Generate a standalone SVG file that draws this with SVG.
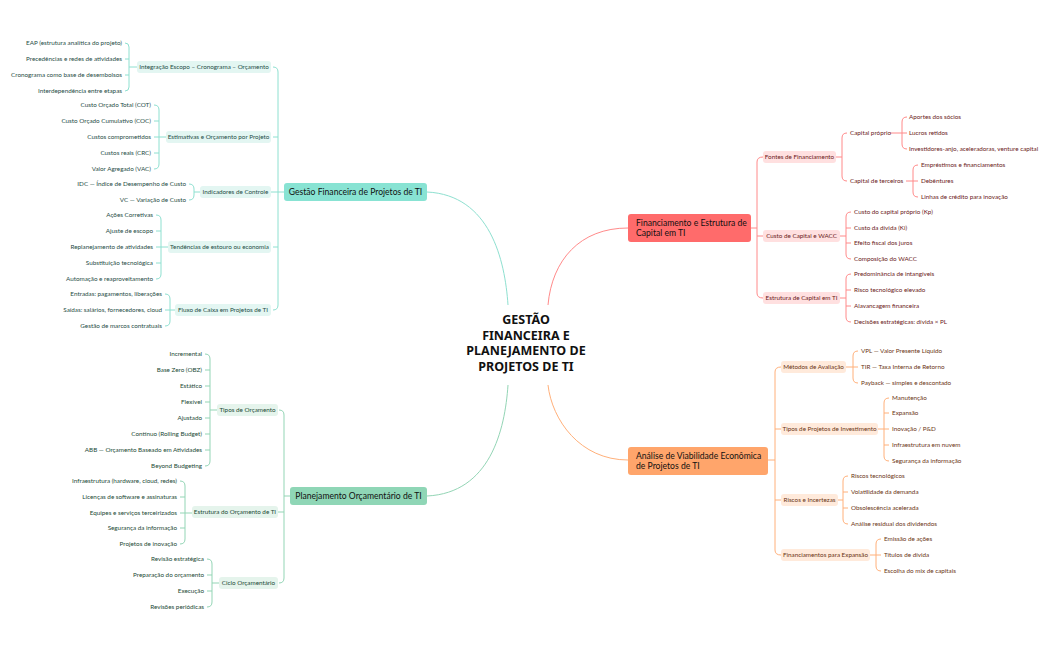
<svg xmlns="http://www.w3.org/2000/svg" width="1049" height="650" viewBox="0 0 1049 650">
<style>
text{font-family:Lato,"Liberation Sans",sans-serif;font-size:6.3px}
.l{text-anchor:end}
.t text{fill:#1f4d46}.g text{fill:#234a36}.r text{fill:#6b1a1a}.o text{fill:#6b3515}
path{fill:none;stroke-width:1}
.tc{stroke:#8ee0d0}.gc{stroke:#93d5b5}.rc{stroke:#ff8a8a}.oc{stroke:#ffb07a}
.tp{fill:#e3f6f2}.gp{fill:#e5f4ec}.rp{fill:#ffe0e0}.op{fill:#ffeadb}
.m{font-size:8.6px;fill:#111}
</style>
<rect width="1049" height="650" fill="#fff"/>
<g id="connectors">
<path class="tc" d="M427,192 C490,195 505,260 508,305"/>
<path class="gc" d="M427,496 C490,493 505,430 508,385"/>
<path class="rc" d="M628,228 C580,228 552,260 548,305"/>
<path class="oc" d="M628,460 C580,460 552,420 548,385"/>
<!-- teal -->
<path class="tc" d="M273,67 Q278,67 278,72 V305 Q278,310 273,310 M278,137H273 M278,247H273 M284,192H271"/>
<path class="tc" d="M125,43 Q129,43 129,47 V87 Q129,91 125,91 M129,59H125 M129,75H125 M137,67H129"/>
<path class="tc" d="M154,105 Q159,105 159,110 V164 Q159,169 154,169 M159,121H154 M159,153H154 M166,137H154"/>
<path class="tc" d="M189,184 Q194,184 194,189 V195 Q194,200 189,200 M200,192H194"/>
<path class="tc" d="M156,215 Q161,215 161,220 V274 Q161,279 156,279 M161,231H156 M161,263H156 M168,247H156"/>
<path class="tc" d="M165,294 Q170,294 170,299 V321 Q170,326 165,326 M175,310H165"/>
<!-- green -->
<path class="gc" d="M279,410 Q284,410 284,415 V578 Q284,583 279,583 M290,496H284 M284,512H278"/>
<path class="gc" d="M205,354 Q210,354 210,359 V461 Q210,466 205,466 M210,370H205 M210,386H205 M210,402H205 M210,418H205 M210,434H205 M210,450H205 M217,410H210"/>
<path class="gc" d="M180,481 Q185,481 185,486 V539 Q185,544 180,544 M185,497H180 M185,528H180 M192,513H180"/>
<path class="gc" d="M207,559 Q212,559 212,564 V602 Q212,607 207,607 M212,575H207 M212,591H207 M219,583H212"/>
<!-- red -->
<path class="rc" d="M763,157 Q757,157 757,162 V293 Q757,298 763,298 M751,228H757 M757,236H763"/>
<path class="rc" d="M847,133 Q842,133 842,138 V176 Q842,181 847,181 M836,157H842"/>
<path class="rc" d="M907,117 Q902,117 902,122 V144 Q902,149 907,149 M890,133H907"/>
<path class="rc" d="M918,165 Q913,165 913,170 V192 Q913,197 918,197 M906,181H918"/>
<path class="rc" d="M851,212 Q846,212 846,217 V254 Q846,259 851,259 M840,236H846 M846,228H851 M846,243H851"/>
<path class="rc" d="M851,274 Q846,274 846,279 V317 Q846,322 851,322 M840,298H846 M846,290H851 M846,306H851"/>
<!-- orange -->
<path class="oc" d="M781,367 Q775,367 775,372 V550 Q775,555 781,555 M768,460H775 M775,429H781 M775,500H781"/>
<path class="oc" d="M858,351 Q853,351 853,356 V378 Q853,383 858,383 M846,367H858"/>
<path class="oc" d="M889,398 Q884,398 884,403 V456 Q884,461 889,461 M878,429H889 M884,413H889 M884,445H889"/>
<path class="oc" d="M848,476 Q843,476 843,481 V519 Q843,524 848,524 M838,500H843 M843,492H848 M843,508H848"/>
<path class="oc" d="M881,539 Q876,539 876,544 V566 Q876,571 881,571 M870,555H881"/>
</g>
<g id="center"><text x="526" y="324" text-anchor="middle" style="font-family:'Noto Sans','Liberation Sans',sans-serif;font-size:12.5px;font-weight:bold;fill:#111"><tspan x="526">GESTÃO</tspan><tspan x="526" dy="15.5">FINANCEIRA E</tspan><tspan x="526" dy="15.5">PLANEJAMENTO DE</tspan><tspan x="526" dy="15.5">PROJETOS DE TI</tspan></text></g>
<g id="n-gestao"><rect x="284" y="183" width="143" height="18" rx="3" fill="#88e3d3"/><text class="m" x="355.5" y="195" text-anchor="middle">Gestão Financeira de Projetos de TI</text></g>
<g id="n-planej"><rect x="290" y="487" width="137" height="18" rx="3" fill="#8fd6b6"/><text class="m" x="358.5" y="499" text-anchor="middle">Planejamento Orçamentário de TI</text></g>
<g id="n-financ"><rect x="628" y="214" width="123" height="28" rx="3" fill="#ff6b6b"/><text class="m" x="636" y="226">Financiamento e Estrutura de<tspan x="636" dy="10">Capital em TI</tspan></text></g>
<g id="n-analise"><rect x="628" y="447" width="140" height="28" rx="3" fill="#ffa56b"/><text class="m" x="636" y="459">Análise de Viabilidade Econômica<tspan x="636" dy="10">de Projetos de TI</tspan></text></g>
<g id="teal" class="t">
<rect class="tp" x="137" y="61" width="134" height="12" rx="3"/><text x="204" y="69.2" text-anchor="middle">Integração Escopo – Cronograma – Orçamento</text>
<rect class="tp" x="166" y="131" width="105" height="12" rx="3"/><text x="218.5" y="139.2" text-anchor="middle">Estimativas e Orçamento por Projeto</text>
<rect class="tp" x="200" y="186" width="71" height="12" rx="3"/><text x="235.5" y="194.2" text-anchor="middle">Indicadores de Controle</text>
<rect class="tp" x="168" y="241" width="103" height="12" rx="3"/><text x="219.5" y="249.2" text-anchor="middle">Tendências de estouro ou economia</text>
<rect class="tp" x="175" y="304" width="96" height="12" rx="3"/><text x="223" y="312.2" text-anchor="middle">Fluxo de Caixa em Projetos de TI</text>
<text class="l" x="122" y="45.2">EAP (estrutura analítica do projeto)</text>
<text class="l" x="122" y="61.2">Precedências e redes de atividades</text>
<text class="l" x="122" y="77.2">Cronograma como base de desembolsos</text>
<text class="l" x="122" y="93.2">Interdependência entre etapas</text>
<text class="l" x="151" y="107.2">Custo Orçado Total (COT)</text>
<text class="l" x="151" y="123.2">Custo Orçado Cumulativo (COC)</text>
<text class="l" x="151" y="139.2">Custos comprometidos</text>
<text class="l" x="151" y="155.2">Custos reais (CRC)</text>
<text class="l" x="151" y="171.2">Valor Agregado (VAC)</text>
<text class="l" x="186" y="186.2">IDC — Índice de Desempenho de Custo</text>
<text class="l" x="186" y="202.2">VC — Variação de Custo</text>
<text class="l" x="153" y="217.2">Ações Corretivas</text>
<text class="l" x="153" y="233.2">Ajuste de escopo</text>
<text class="l" x="153" y="249.2">Replanejamento de atividades</text>
<text class="l" x="153" y="265.2">Substituição tecnológica</text>
<text class="l" x="153" y="281.2">Automação e reaproveitamento</text>
<text class="l" x="162" y="296.2">Entradas: pagamentos, liberações</text>
<text class="l" x="162" y="312.2">Saídas: salários, fornecedores, cloud</text>
<text class="l" x="162" y="328.2">Gestão de marcos contratuais</text>
</g>
<g id="green" class="g">
<rect class="gp" x="217" y="404" width="61" height="12" rx="3"/><text x="247.5" y="412.2" text-anchor="middle">Tipos de Orçamento</text>
<rect class="gp" x="192" y="506" width="86" height="12" rx="3"/><text x="235" y="514.2" text-anchor="middle">Estrutura do Orçamento de TI</text>
<rect class="gp" x="219" y="577" width="59" height="12" rx="3"/><text x="248.5" y="585.2" text-anchor="middle">Ciclo Orçamentário</text>
<text class="l" x="202" y="356.2">Incremental</text>
<text class="l" x="202" y="372.2">Base Zero (OBZ)</text>
<text class="l" x="202" y="388.2">Estático</text>
<text class="l" x="202" y="404.2">Flexível</text>
<text class="l" x="202" y="420.2">Ajustado</text>
<text class="l" x="202" y="436.2">Contínuo (Rolling Budget)</text>
<text class="l" x="202" y="452.2">ABB — Orçamento Baseado em Atividades</text>
<text class="l" x="202" y="468.2">Beyond Budgeting</text>
<text class="l" x="177" y="483.2">Infraestrutura (hardware, cloud, redes)</text>
<text class="l" x="177" y="499.2">Licenças de software e assinaturas</text>
<text class="l" x="177" y="515.2">Equipes e serviços terceirizados</text>
<text class="l" x="177" y="530.2">Segurança da informação</text>
<text class="l" x="177" y="546.2">Projetos de inovação</text>
<text class="l" x="204" y="561.2">Revisão estratégica</text>
<text class="l" x="204" y="577.2">Preparação do orçamento</text>
<text class="l" x="204" y="593.2">Execução</text>
<text class="l" x="204" y="609.2">Revisões periódicas</text>
</g>
<g id="red" class="r">
<rect class="rp" x="763" y="151" width="73" height="12" rx="3"/><text x="799.5" y="159.2" text-anchor="middle">Fontes de Financiamento</text>
<rect class="rp" x="763" y="230" width="77" height="12" rx="3"/><text x="801.5" y="238.2" text-anchor="middle">Custo de Capital e WACC</text>
<rect class="rp" x="763" y="292" width="77" height="12" rx="3"/><text x="801.5" y="300.2" text-anchor="middle">Estrutura de Capital em TI</text>
<text x="850" y="135.2">Capital próprio</text>
<text x="850" y="183.2">Capital de terceiros</text>
<text x="909" y="119.2">Aportes dos sócios</text>
<text x="909" y="135.2">Lucros retidos</text>
<text x="909" y="151.2">Investidores-anjo, aceleradoras, venture capital</text>
<text x="921" y="167.2">Empréstimos e financiamentos</text>
<text x="921" y="183.2">Debêntures</text>
<text x="921" y="199.2">Linhas de crédito para inovação</text>
<text x="854" y="214.2">Custo do capital próprio (Kp)</text>
<text x="854" y="230.2">Custo da dívida (Ki)</text>
<text x="854" y="245.2">Efeito fiscal dos juros</text>
<text x="854" y="261.2">Composição do WACC</text>
<text x="854" y="276.2">Predominância de intangíveis</text>
<text x="854" y="292.2">Risco tecnológico elevado</text>
<text x="854" y="308.2">Alavancagem financeira</text>
<text x="854" y="324.2">Decisões estratégicas: dívida × PL</text>
</g>
<g id="orange" class="o">
<rect class="op" x="781" y="361" width="65" height="12" rx="3"/><text x="813.5" y="369.2" text-anchor="middle">Métodos de Avaliação</text>
<rect class="op" x="781" y="423" width="97" height="12" rx="3"/><text x="829.5" y="431.2" text-anchor="middle">Tipos de Projetos de Investimento</text>
<rect class="op" x="781" y="494" width="57" height="12" rx="3"/><text x="809.5" y="502.2" text-anchor="middle">Riscos e Incertezas</text>
<rect class="op" x="781" y="549" width="89" height="12" rx="3"/><text x="825.5" y="557.2" text-anchor="middle">Financiamentos para Expansão</text>
<text x="861" y="353.2">VPL — Valor Presente Líquido</text>
<text x="861" y="369.2">TIR — Taxa Interna de Retorno</text>
<text x="861" y="385.2">Payback — simples e descontado</text>
<text x="892" y="400.2">Manutenção</text>
<text x="892" y="415.2">Expansão</text>
<text x="892" y="431.2">Inovação / P&amp;D</text>
<text x="892" y="447.2">Infraestrutura em nuvem</text>
<text x="892" y="463.2">Segurança da informação</text>
<text x="851" y="478.2">Riscos tecnológicos</text>
<text x="851" y="494.2">Volatilidade da demanda</text>
<text x="851" y="510.2">Obsolescência acelerada</text>
<text x="851" y="526.2">Análise residual dos dividendos</text>
<text x="884" y="541.2">Emissão de ações</text>
<text x="884" y="557.2">Títulos de dívida</text>
<text x="884" y="573.2">Escolha do mix de capitais</text>
</g>
</svg>
